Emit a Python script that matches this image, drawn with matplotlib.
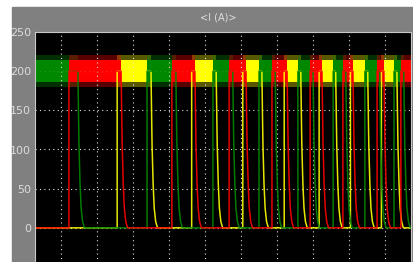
#!/usr/bin/env python3
from __future__ import annotations

import matplotlib

matplotlib.use("Agg")
import matplotlib.pyplot as plt
from matplotlib.patches import Rectangle

# conduction intervals of each phase (time in grid units)
green_on = [(0.00, 1.47), (3.39, 4.19), (5.22, 5.77), (6.50, 6.95),
            (7.58, 8.00), (8.56, 8.91), (9.44, 9.85), (10.25, 10.52)]
red_on = [(1.22, 2.67), (4.08, 4.72), (5.67, 6.14), (6.86, 7.28),
          (7.92, 8.25), (8.83, 9.11), (9.78, 9.97), (10.44, 11.00)]
yellow_on = [(2.56, 3.50), (4.63, 5.31), (6.05, 6.58), (7.20, 7.66),
             (8.17, 8.63), (9.04, 9.52), (9.90, 10.33)]

# current level while on, and the noise band around it (A)
i_on = 200
band_core = (186, 214)
band_spikes = (180, 221)

# turn-off tail: time after switch-off and current (A)
decay_dt = [0.0, 0.015, 0.03, 0.06, 0.09, 0.13, 0.18]
decay_i = [200, 150, 105, 55, 25, 8, 0]

y_ticks = [-50, 0, 50, 100, 150, 200, 250]
x_ticks = [1, 2, 3, 4, 5, 6, 7, 8, 9, 10]
title = "<I (A)>"


def phase_series(intervals, t_end=11.5):
    t, i = [-1.0], [0.0]
    for s, e in intervals:
        t += [s, s, e]
        i += [0, i_on, i_on]
        t += [e + d for d in decay_dt[1:]]
        i += decay_i[1:]
    t.append(t_end)
    i.append(0)
    return t, i


def main() -> int:
    fig = plt.figure(figsize=(4.13, 2.62), dpi=100, facecolor="white")
    fig.patches.append(Rectangle((12 / 413, 0), 1, 1 - 7 / 262,
                                 transform=fig.transFigure, color="#808080", zorder=-5))

    ax = fig.add_axes([35 / 413, -5 / 262, 376 / 413, 235 / 262])
    ax.set_facecolor("black")

    # draw order: yellow below green below red, like the scope
    for intervals, col in [(yellow_on, "#ffff00"), (green_on, "#008800"), (red_on, "#ff0000")]:
        for s, e in intervals:
            ax.fill_between([s, e], band_spikes[0], band_spikes[1], color=col, alpha=0.35, lw=0)
            ax.fill_between([s, e], band_core[0], band_core[1], color=col, lw=0)
        t, i = phase_series(intervals)
        ax.plot(t, i, color=col, lw=1.1, alpha=0.9)

    ax.set_xlim(0.278, 10.722)
    ax.set_ylim(-50, 250)
    ax.set_xticks(x_ticks)
    ax.set_yticks(y_ticks)
    ax.grid(True, color="#e0e0e0", linestyle=(0, (1, 3)), lw=0.8)
    ax.tick_params(axis="x", labelbottom=False, length=0)
    ax.tick_params(axis="y", length=0, pad=3, colors="#dcdcdc", labelsize=8)
    for lab in ax.get_yticklabels():
        lab.set_family(["Liberation Sans Narrow", "DejaVu Sans"])
    for sp in ax.spines.values():
        sp.set_color("#c8c8c8")
        sp.set_linewidth(0.8)

    fig.text(218 / 413, 1 - 18 / 262, title, color="#dcdcdc", fontsize=7,
             ha="center", va="center", family=["Liberation Sans Narrow", "DejaVu Sans"])

    fig.savefig("out.png", dpi=100, facecolor=fig.get_facecolor())
    plt.close(fig)
    return 0


if __name__ == "__main__":
    raise SystemExit(main())
